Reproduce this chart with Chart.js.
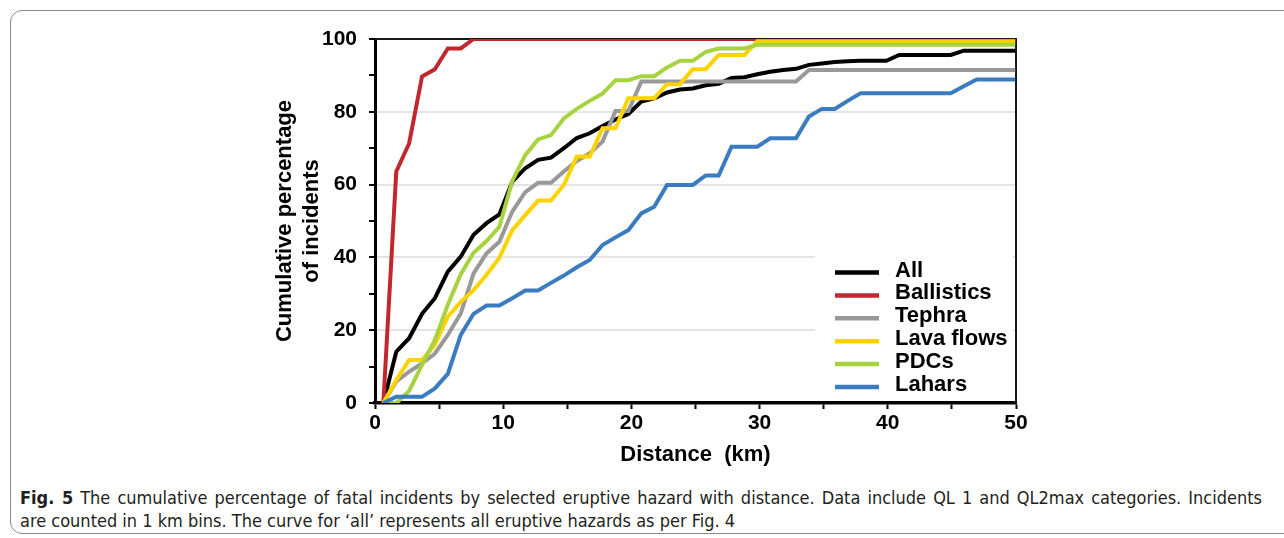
<!DOCTYPE html>
<html>
<head>
<meta charset="utf-8">
<script src="https://cdn.jsdelivr.net/npm/chart.js@4.4.1/dist/chart.umd.min.js"></script>
<style>
  html, body { margin: 0; padding: 0; background: #fff; }
  body { width: 1284px; height: 538px; position: relative; overflow: hidden; }
  #frame {
    position: absolute; left: 10px; top: 10px; width: 1320px; height: 524px;
    border: 1.5px solid #8a8a8a; border-radius: 12px; box-sizing: border-box;
  }
  #wrap { position: absolute; left: 0; top: 0; width: 1284px; height: 475px; }
  #cap {
    position: absolute; left: 20px; top: 486px; width: 1242px;
    font-family: 'Liberation Sans Narrow', 'DejaVu Sans Condensed', 'Open Sans', sans-serif;
    font-size: 18px; line-height: 23px; color: #231f20;
  }
  #cap .l1 { text-align: justify; text-align-last: justify; white-space: nowrap; }
  #cap b { font-weight: bold; }
</style>
</head>
<body>
<div id="frame"></div>
<div id="wrap"><canvas id="c" width="1284" height="475"></canvas></div>
<div id="cap">
  <div class="l1"><b>Fig. 5</b> The cumulative percentage of fatal incidents by selected eruptive hazard with distance. Data include QL 1 and QL2max categories. Incidents</div>
  <div>are counted in 1 km bins. The curve for ‘all’ represents all eruptive hazards as per Fig. 4</div>
</div>
<script>
// distance of each 1 km bin as plotted (km)
const distances = [0.65, 1.66, 2.66, 3.67, 4.67, 5.68, 6.69, 7.69, 8.70, 9.70,
  10.71, 11.72, 12.72, 13.73, 14.73, 15.74, 16.75, 17.75, 18.76, 19.76,
  20.77, 21.78, 22.78, 23.79, 24.79, 25.80, 26.81, 27.81, 28.82, 29.82,
  30.83, 31.84, 32.84, 33.85, 34.85, 35.86, 36.87, 37.87, 38.88, 39.88,
  40.89, 41.90, 42.90, 43.91, 44.91, 45.92, 46.93, 47.93, 48.94, 49.94];

const allHaz = [0, 14.1, 17.8, 24.5, 28.8, 36.1, 40.2, 46.2, 49.4, 51.8,
  60.8, 64.5, 66.8, 67.4, 70.0, 72.8, 74.1, 76.1, 77.9, 79.4,
  82.8, 83.7, 85.3, 86.1, 86.4, 87.3, 87.7, 89.3, 89.5, 90.3,
  91.0, 91.5, 91.8, 92.9, 93.3, 93.7, 93.9, 94.0, 94.0, 94.0,
  95.6, 95.6, 95.6, 95.6, 95.6, 96.8, 96.8, 96.8, 96.8, 96.8];

const ballistics = [0, 63.6, 71.3, 89.7, 91.7, 97.4, 97.4, 100, 100, 100,
  100, 100, 100, 100, 100, 100, 100, 100, 100, 100,
  100, 100, 100, 100, 100, 100, 100, 100, 100, 100,
  100, 100, 100, 100, 100, 100, 100, 100, 100, 100,
  100, 100, 100, 100, 100, 100, 100, 100, 100, 100];

const tephra = [0, 5.9, 8.6, 10.9, 13.6, 18.7, 24.6, 35.6, 41.1, 44.3,
  52.6, 57.9, 60.5, 60.5, 63.6, 66.5, 68.6, 71.8, 80.2, 80.2,
  88.3, 88.3, 88.3, 88.3, 88.3, 88.3, 88.3, 88.3, 88.3, 88.3,
  88.3, 88.3, 88.3, 91.5, 91.5, 91.5, 91.5, 91.5, 91.5, 91.5,
  91.5, 91.5, 91.5, 91.5, 91.5, 91.5, 91.5, 91.5, 91.5, 91.5];

const lavaFlows = [0, 6.3, 11.8, 11.8, 16.0, 23.7, 27.8, 31.0, 35.2, 39.9,
  47.5, 51.6, 55.6, 55.6, 59.9, 67.7, 67.7, 75.5, 75.5, 83.7,
  83.7, 83.7, 87.6, 87.6, 91.7, 91.7, 95.6, 95.6, 95.6, 99.4,
  99.4, 99.4, 99.4, 99.4, 99.4, 99.4, 99.4, 99.4, 99.4, 99.4,
  99.4, 99.4, 99.4, 99.4, 99.4, 99.4, 99.4, 99.4, 99.4, 99.4];

const pdcs = [0, 0, 3.3, 10.5, 17.3, 27.0, 35.4, 41.3, 44.5, 48.4,
  61.0, 68.1, 72.4, 73.6, 78.2, 80.8, 83.0, 85.0, 88.7, 88.7,
  89.8, 89.8, 92.2, 94.0, 94.0, 96.5, 97.4, 97.4, 97.4, 98.4,
  98.4, 98.4, 98.4, 98.4, 98.4, 98.4, 98.4, 98.4, 98.4, 98.4,
  98.4, 98.4, 98.4, 98.4, 98.4, 98.4, 98.4, 98.4, 98.4, 98.4];

const lahars = [0, 1.7, 1.7, 1.7, 4.0, 8.0, 18.7, 24.5, 26.8, 26.8,
  28.8, 30.9, 30.9, 33.0, 35.0, 37.3, 39.3, 43.4, 45.5, 47.5,
  52.1, 53.9, 59.9, 59.9, 59.9, 62.5, 62.5, 70.4, 70.4, 70.4,
  72.7, 72.7, 72.7, 78.7, 80.8, 80.8, 83.0, 85.1, 85.1, 85.1,
  85.1, 85.1, 85.1, 85.1, 85.1, 87.0, 88.9, 88.9, 88.9, 88.9];

const seriesNames = ['All', 'Ballistics', 'Tephra', 'Lava flows', 'PDCs', 'Lahars'];
const seriesData = [allHaz, ballistics, tephra, lavaFlows, pdcs, lahars];
const colors = ['#000000', '#c1272d', '#999999', '#ffd200', '#a8d340', '#3b7cc0'];

const FONT = "'Liberation Sans', Arial, sans-serif";

// legend drawn inside the plot, bottom right, on a white box
const insideLegend = {
  id: 'insideLegend',
  afterDatasetsDraw(chart) {
    const { ctx, chartArea } = chart;
    const x0 = chartArea.right - 201;
    const y0 = 255;
    ctx.save();
    ctx.fillStyle = '#fff';
    ctx.fillRect(x0, y0, chartArea.right - x0 - 3, chartArea.bottom - y0 - 3);
    ctx.font = 'bold 22px ' + FONT;
    ctx.textBaseline = 'middle';
    ctx.textAlign = 'left';
    seriesNames.forEach((name, i) => {
      const yc = 270.5 + i * 22.9;
      ctx.strokeStyle = colors[i];
      ctx.lineWidth = 4.5;
      ctx.beginPath();
      ctx.moveTo(x0 + 20, yc + 2);
      ctx.lineTo(x0 + 64, yc + 2);
      ctx.stroke();
      ctx.fillStyle = '#000';
      ctx.fillText(name, x0 + 80, yc);
    });
    ctx.restore();
  }
};

// thin frame on top and right of the plot
const plotFrame = {
  id: 'plotFrame',
  beforeDatasetsDraw(chart) {
    const { ctx, chartArea } = chart;
    ctx.save();
    ctx.strokeStyle = '#1a1a1a';
    ctx.lineWidth = 2;
    ctx.beginPath();
    ctx.moveTo(chartArea.left, chartArea.top);
    ctx.lineTo(chartArea.right, chartArea.top);
    ctx.lineTo(chartArea.right, chartArea.bottom);
    ctx.stroke();
    ctx.restore();
  }
};

const datasets = seriesNames.map((name, i) => ({
  label: name,
  data: seriesData[i],
  borderColor: colors[i],
  backgroundColor: colors[i],
  borderWidth: 4,
  pointRadius: 0,
  tension: 0,
  fill: false,
  order: seriesNames.length - 1 - i
}));

new Chart(document.getElementById('c'), {
  type: 'line',
  data: { labels: distances, datasets: datasets },
  options: {
    responsive: false,
    animation: false,
    events: [],
    layout: { padding: { left: 0, top: 39, right: 268, bottom: 0 } },
    plugins: { legend: { display: false }, tooltip: { enabled: false } },
    scales: {
      x: {
        type: 'linear',
        min: 0, max: 50,
        afterFit: (s) => { s.height = 72; },
        border: { display: true, color: '#000', width: 3.5 },
        grid: { drawOnChartArea: false, drawTicks: true, tickLength: 6, tickColor: '#000', tickWidth: 2 },
        ticks: {
          stepSize: 5, autoSkip: false, maxRotation: 0, padding: 2,
          color: '#000', font: { family: FONT, size: 21, weight: 'bold' },
          callback: (v) => (v % 10 === 0 ? String(v) : '')
        },
        title: {
          display: true, text: 'Distance  (km)', color: '#000',
          font: { family: FONT, size: 22, weight: 'bold', lineHeight: 1.2 },
          padding: { top: 0, bottom: 7 }
        }
      },
      y: {
        min: 0, max: 100,
        afterFit: (s) => { s.width = 375; },
        border: { display: true, color: '#000', width: 3 },
        grid: {
          drawTicks: true, tickLength: 6, tickColor: '#000', tickWidth: 2, lineWidth: 2,
          color: (c) => (c.tick && c.tick.value % 20 === 0 && c.tick.value > 0 && c.tick.value < 100 ? '#e4e4e4' : 'rgba(0,0,0,0)')
        },
        ticks: {
          stepSize: 10, autoSkip: false, padding: 12,
          color: '#000', font: { family: FONT, size: 21, weight: 'bold' },
          callback: (v) => (v % 20 === 0 ? String(v) : '')
        },
        title: {
          display: true, text: ['Cumulative percentage', 'of incidents'], color: '#000',
          font: { family: FONT, size: 22, weight: 'bold', lineHeight: 1.23 },
          padding: { top: 271, bottom: 0 }
        }
      }
    }
  },
  plugins: [plotFrame, insideLegend]
});
</script>
</body>
</html>
